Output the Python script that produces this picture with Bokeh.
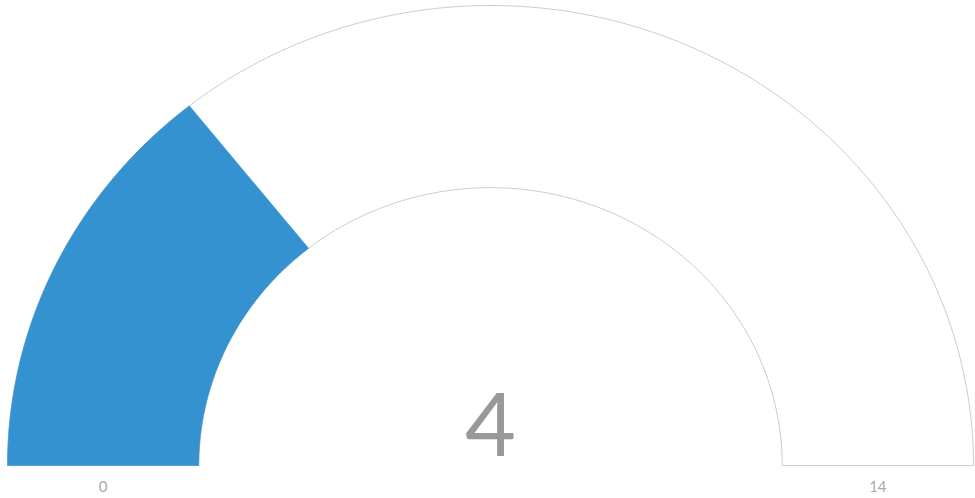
import numpy as np
from bokeh.plotting import figure
from bokeh.models import Range1d, ColumnDataSource
from bokeh.core.properties import value as pvalue
from bokeh.embed import file_html
from bokeh.resources import INLINE

# ---- data ----
gauge_min = [0]
gauge_max = [14]
gauge_value = [4]
tick_labels = ["0", "14"]
value_label = ["4"]

INNER = 0.604
OUTER = 1.0

W, H = 975, 498
cx_px, cy_px = 490.0, 465.0
rx_px, ry_px = 483.0, 460.0

p = figure(width=W, height=H, output_backend="svg", toolbar_location=None,
           x_range=Range1d(-cx_px / rx_px, (W - cx_px) / rx_px),
           y_range=Range1d(-(H - cy_px) / ry_px, cy_px / ry_px),
           min_border=0, border_fill_color="white", background_fill_color="white")
p.axis.visible = False
p.grid.visible = False
p.outline_line_color = None


def band(frac0, frac1, n=200):
    a0 = np.pi * (1 - frac0)
    a1 = np.pi * (1 - frac1)
    t = np.linspace(a0, a1, n)
    xs = np.concatenate([OUTER * np.cos(t), INNER * np.cos(t[::-1])])
    ys = np.concatenate([OUTER * np.sin(t), INNER * np.sin(t[::-1])])
    return xs, ys


vmin, vmax, v = gauge_min[0], gauge_max[0], gauge_value[0]
bx, by = band(0.0, 1.0)
p.patch(bx, by, fill_color="white", line_color="#cccccc", line_width=1)
fx, fy = band(0.0, (v - vmin) / (vmax - vmin))
p.patch(fx, fy, fill_color="#3592d0", line_color="#3592d0", line_width=0.5)

mid = (INNER + OUTER) / 2
lbl = ColumnDataSource(dict(x=[-mid, mid], y=[-0.046, -0.046], t=tick_labels))
p.text(x="x", y="y", text="t", source=lbl, text_align="center", text_baseline="middle",
       text_font=pvalue("Lato"), text_font_size="15px", text_color="#aaaaaa")

vsrc = ColumnDataSource(dict(x=[0.0], y=[0.09], t=value_label))
p.text(x="x", y="y", text="t", source=vsrc, text_align="center", text_baseline="middle",
       text_font=pvalue("Lato"), text_font_size="88px", text_color="#999999")

open("out.html", "w").write(file_html(p, INLINE))
